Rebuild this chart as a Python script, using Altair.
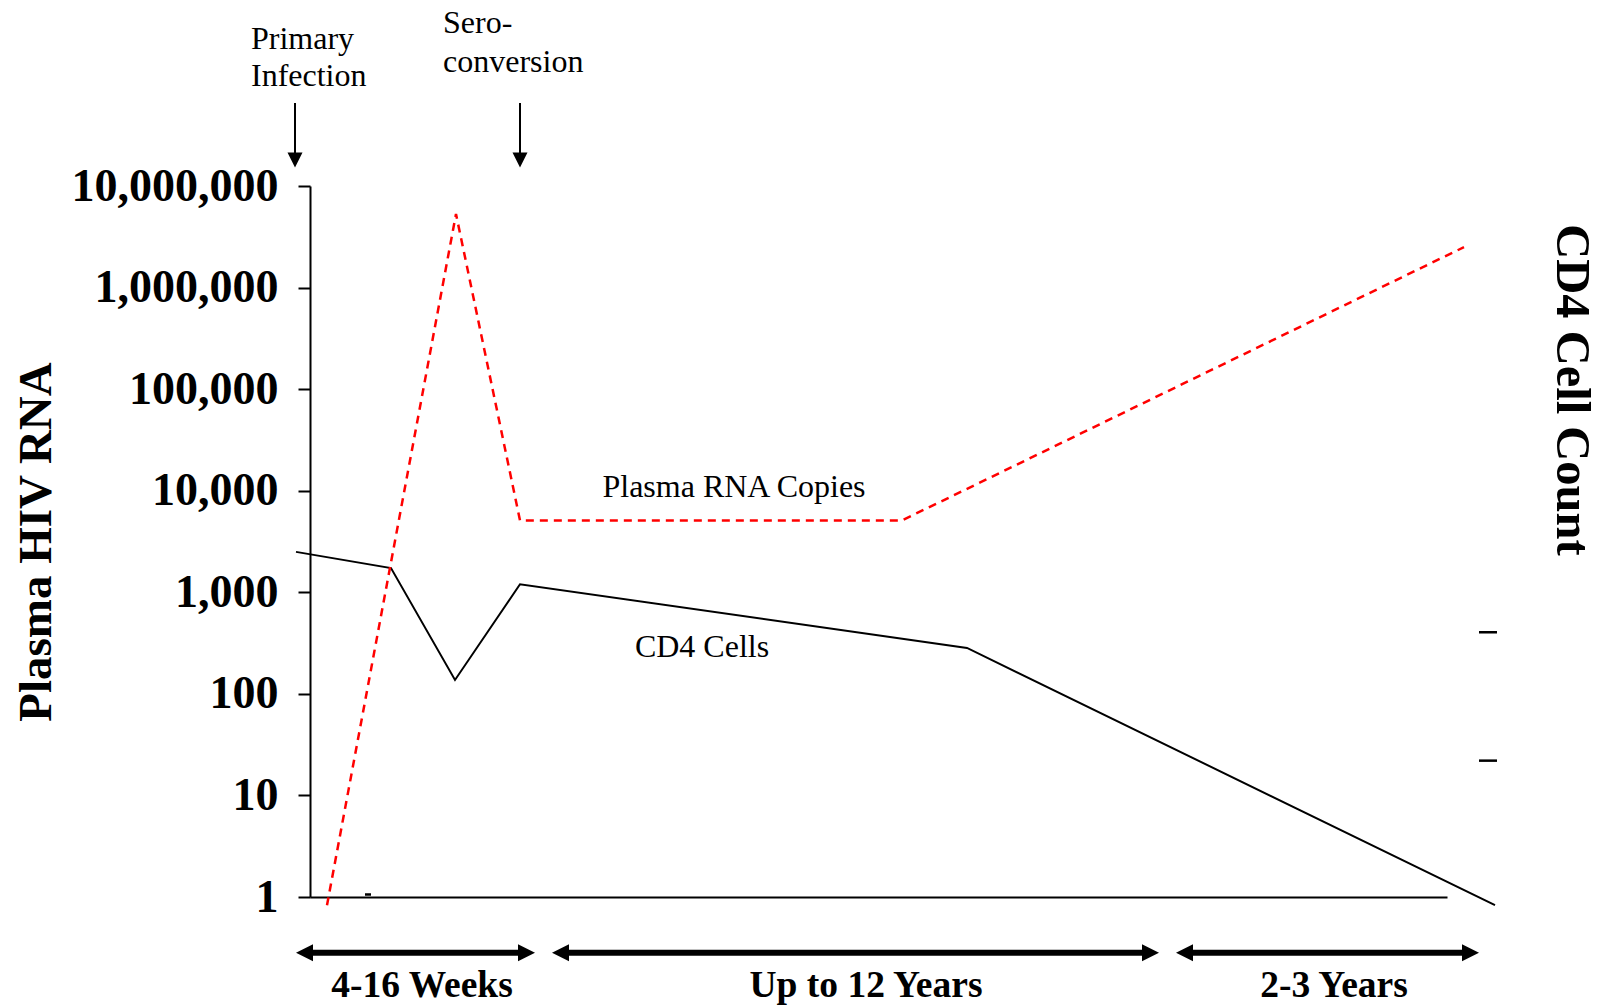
import altair as alt
import pandas as pd

# ---------------- data (timeline units along x, copies/count along y) ----------------
rna_x = [17, 146, 210, 592, 1154]
rna_y = [0.83, 5.3e6, 5100, 5100, 2.5e6]

cd4_x = [-14, 81, 145, 210, 657, 1185]
cd4_y = [2500, 1730, 137, 1200, 283, 0.83]

y_ticks = [1, 10, 100, 1000, 10000, 100000, 1000000, 10000000]

phase_labels = ["4-16 Weeks", "Up to 12 Years", "2-3 Years"]
phase_start = [-14, 242, 866]
phase_end = [225, 849, 1169]
phase_label_x = [112, 556, 1024]

event_line1 = ["Primary", "Sero-"]
event_line2 = ["Infection", "conversion"]
event_text_x = [-59, 133]
event_arrow_x = [-15, 210]

series_labels = ["Plasma RNA Copies", "CD4 Cells"]
series_label_x = [424, 392]
series_label_y = [11000, 292]

right_tick_y = [404, 22]
right_tick_x = [1169, 1187]

FONT = "Liberation Serif"
W, H = 1137, 711

xs = alt.Scale(domain=[0, W], nice=False, zero=False)
ys = alt.Scale(type="log", domain=[1, 10000000], nice=False)

x_axis = alt.Axis(domain=True, ticks=False, labels=False, grid=False,
                  domainColor="black", domainWidth=2)
y_axis = alt.Axis(values=y_ticks, format=",", grid=False, domain=True,
                  domainColor="black", domainWidth=2,
                  ticks=True, tickColor="black", tickWidth=2, tickSize=12,
                  labelFont=FONT, labelFontSize=46, labelFontWeight="bold",
                  labelColor="black", labelPadding=20, labelOverlap=False,
                  labelFlush=False, labelLimit=1000,
                  title="Plasma HIV RNA", titleFont=FONT, titleFontSize=47,
                  titleFontWeight="bold", titleColor="black", titleAngle=270,
                  titleX=-260, titleY=355.5, titleAlign="center",
                  titleBaseline="alphabetic", titleLimit=1000)


def X(field):
    return alt.X(field, type="quantitative", scale=xs, axis=x_axis, title=None)


def Y(field):
    return alt.Y(field, type="quantitative", scale=ys, axis=y_axis)


rna_df = pd.DataFrame({"x": rna_x, "v": rna_y})
cd4_df = pd.DataFrame({"x": cd4_x, "v": cd4_y})

cd4_line = alt.Chart(cd4_df).mark_line(color="black", strokeWidth=2).encode(
    x=X("x"), y=Y("v"))
rna_line = alt.Chart(rna_df).mark_line(color="#ff0000", strokeWidth=2.5,
                                       strokeDash=[8, 6]).encode(
    x=X("x"), y=Y("v"))

lab_df = pd.DataFrame({"x": series_label_x, "v": series_label_y, "t": series_labels})
series_text = alt.Chart(lab_df).mark_text(font=FONT, fontSize=32, color="black",
                                          align="center", baseline="middle").encode(
    x=X("x"), y=Y("v"), text="t:N")

# small tick marks
rt_df = pd.DataFrame({"x": [right_tick_x[0]] * 2, "x2": [right_tick_x[1]] * 2, "v": right_tick_y})
right_ticks = alt.Chart(rt_df).mark_rule(color="black", strokeWidth=2.5).encode(
    x=X("x"), x2="x2", y=Y("v"))
stub_df = pd.DataFrame({"x": [55], "x2": [61], "v": [1]})
stub = alt.Chart(stub_df).mark_rule(color="black", strokeWidth=2.5, yOffset=-2.5).encode(
    x=X("x"), x2="x2", y=Y("v"))

layers = [cd4_line, rna_line, series_text, right_ticks, stub]

# top event annotations
for i in range(2):
    df1 = pd.DataFrame({"x": [event_text_x[i]], "t": [event_line1[i]]})
    df2 = pd.DataFrame({"x": [event_text_x[i]], "t": [event_line2[i]]})
    y1 = [-147, -163][i]
    y2 = [-110, -124][i]
    for df, yy in ((df1, y1), (df2, y2)):
        layers.append(alt.Chart(df).mark_text(font=FONT, fontSize=32, color="black",
                                              align="left", baseline="middle").encode(
            x=X("x"), y=alt.value(yy), text="t:N"))
    adf = pd.DataFrame({"x": [event_arrow_x[i]]})
    layers.append(alt.Chart(adf).mark_rule(color="black", strokeWidth=2).encode(
        x=X("x"), y=alt.value(-83), y2=alt.value(-28)))
    layers.append(alt.Chart(adf).mark_point(shape="M -1 -1 L 1 -1 L 0 1 Z", filled=True,
                                            size=225, color="black", opacity=1,
                                            strokeWidth=0).encode(
        x=X("x"), y=alt.value(-26)))

# bottom phase arrows
ph_df = pd.DataFrame({"x": phase_start, "x2": phase_end, "lx": phase_label_x, "t": phase_labels})
ARROW_Y = 766.7
layers.append(alt.Chart(ph_df).mark_rule(color="black", strokeWidth=6, xOffset=12,
                                         x2Offset=-12).encode(
    x=X("x"), x2="x2", y=alt.value(ARROW_Y)))
layers.append(alt.Chart(ph_df).mark_point(shape="M -1 0 L 1 -1 L 1 1 Z", filled=True,
                                          size=289, color="black", opacity=1,
                                          strokeWidth=0, xOffset=8.5).encode(
    x=X("x"), y=alt.value(ARROW_Y)))
layers.append(alt.Chart(ph_df).mark_point(shape="M 1 0 L -1 -1 L -1 1 Z", filled=True,
                                          size=289, color="black", opacity=1,
                                          strokeWidth=0, xOffset=-8.5).encode(
    x=X("x2"), y=alt.value(ARROW_Y)))
layers.append(alt.Chart(ph_df).mark_text(font=FONT, fontSize=37.5, fontWeight="bold",
                                         color="black", align="center",
                                         baseline="middle").encode(
    x=X("lx"), y=alt.value(799.5), text="t:N"))

# right-hand title
rt_title = pd.DataFrame({"x": [1247], "t": ["CD4 Cell Count"]})
layers.append(alt.Chart(rt_title).mark_text(font=FONT, fontSize=48.5, fontWeight="bold",
                                            color="black", align="center",
                                            baseline="alphabetic", angle=90).encode(
    x=X("x"), y=alt.value(204), text="t:N"))

chart = alt.layer(*layers).properties(
    width=W, height=H,
    autosize=alt.AutoSizeParams(type="none"),
    padding={"left": 302, "top": 178, "right": 155, "bottom": 110},
    background="white",
).configure_view(stroke=None)

chart.save("out.html", embed_options={"renderer": "svg", "actions": False})
